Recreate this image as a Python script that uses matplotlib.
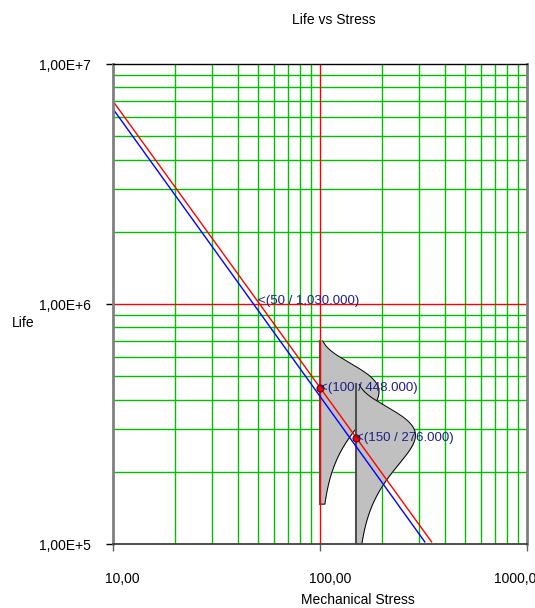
import matplotlib.pyplot as plt
import matplotlib.transforms as mtransforms
import numpy as np

plt.rcParams['font.family'] = ['Liberation Sans', 'DejaVu Sans']

# labelled points on the life-stress line
point_stress = [100, 150]
point_life = [448000, 276000]
label_stress = [50, 100, 150]
label_life = [1030000, 448000, 276000]
label_text = ['<(50 / 1,030.000)', '<(100 / 448.000)', '<(150 / 276.000)']

# the two life-stress lines (end points, straight on log-log)
red_stress = [10, 346]
red_life = [7.0e6, 1.02e5]
blue_stress = [10, 321]
blue_life = [6.5e6, 1.02e5]

# weibull life distributions drawn at each stress level
pdf_stress = [100, 150]
pdf_eta = [463000, 305000]
pdf_beta = [4.0, 4.0]

x_ticks = [10, 100, 1000]
x_ticklabels = ['10,00', '100,00', '1000,0']
y_ticks = [1e5, 1e6, 1e7]
y_ticklabels = ['1,00E+5', '1,00E+6', '1,00E+7']

W, H = 535, 608
fig = plt.figure(figsize=(W / 100, H / 100), dpi=100, facecolor='white')
ax = fig.add_axes([113 / W, 1 - 544 / H, (527 - 113) / W, (544 - 64) / H])
ax.set_xscale('log')
ax.set_yscale('log')
ax.set_xlim(x_ticks[0], x_ticks[-1])
ax.set_ylim(y_ticks[0], y_ticks[-1])

# green minor grid underneath everything
ax.set_axisbelow(True)
ax.grid(which='minor', color='#00c000', lw=1.0)
ax.grid(which='major', visible=False)

# red decade lines
ax.axvline(x_ticks[1], color='red', lw=1.0, zorder=1.6)
ax.axhline(y_ticks[1], color='red', lw=1.0, zorder=1.6)

# life distributions
for i, (s, eta, beta) in enumerate(zip(pdf_stress, pdf_eta, pdf_beta)):
    lo = eta * (-np.log(0.99)) ** (1 / beta)
    hi = eta * (-np.log(0.005)) ** (1 / beta)
    t = np.geomspace(lo, hi, 300)
    f = beta / eta * (t / eta) ** (beta - 1) * np.exp(-(t / eta) ** beta)
    xs = s * 10 ** (0.285 * f / f.max())
    z = 1 + i * 0.1
    ax.fill_betweenx(t, s, xs, color='#c0c0c0', lw=0, zorder=z)
    ax.plot(np.r_[s, xs], np.r_[lo, t], color='black', lw=0.7, zorder=z + 0.02)
    ax.plot([s, s], [lo, hi], color='#505050', lw=1.5, zorder=z + 0.03)

ax.plot(red_stress, red_life, color='red', lw=1.0, zorder=2)
ax.plot(blue_stress, blue_life, color='blue', lw=1.0, zorder=2)
ax.plot(point_stress, point_life, 'o', color='red', mec='#500000', mew=0.8,
        ms=5, zorder=3)

for s, l, txt in zip(label_stress, label_life, label_text):
    ax.text(s, l, txt, ha='left', va='center', color='#1f1f88', fontsize=9.5,
            zorder=4)

# spines
for side, c, w in [('left', '#808080', 2), ('right', '#808080', 2),
                   ('top', 'black', 1), ('bottom', '#404040', 1.3)]:
    ax.spines[side].set_color(c)
    ax.spines[side].set_linewidth(w)

# ticks
ax.set_xticks(x_ticks, x_ticklabels)
ax.set_yticks(y_ticks, y_ticklabels)
ax.tick_params(which='minor', length=0)
ax.tick_params(axis='x', which='major', length=5, width=1, color='#606060',
               pad=15, labelsize=10)
ax.tick_params(axis='y', which='major', length=5, width=1, color='black',
               pad=11, labelsize=10)
ax.xaxis.get_major_ticks()[1].tick1line.set_color('red')
ax.yaxis.get_major_ticks()[1].tick1line.set_color('red')

x_shift = [9, 10, -12]
for lab, dx in zip(ax.get_xticklabels(), x_shift):
    lab.set_transform(lab.get_transform() +
                      mtransforms.ScaledTranslation(dx / 100, 0, fig.dpi_scale_trans))

fig.text(334 / W, 1 - 20 / H, 'Life vs Stress', ha='center', va='center', fontsize=10)
fig.text(358 / W, 1 - 600 / H, 'Mechanical Stress', ha='center', va='center', fontsize=10)
fig.text(23 / W, 1 - 323 / H, 'Life', ha='center', va='center', fontsize=10)

fig.savefig('out.png', dpi=100, facecolor='white')
plt.close(fig)
